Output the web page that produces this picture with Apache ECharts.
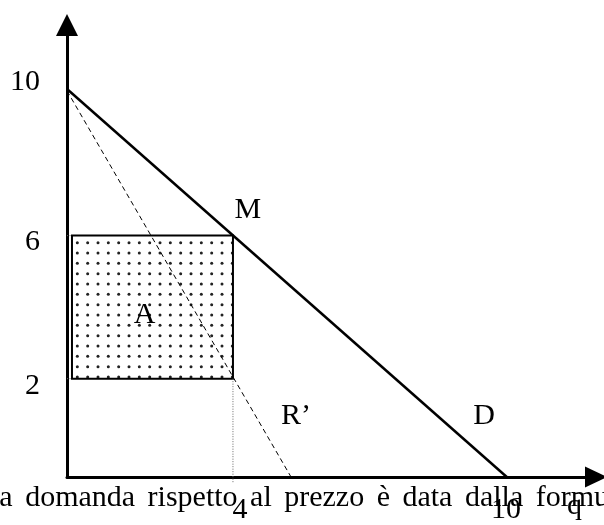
<!DOCTYPE html>
<html><head><meta charset="utf-8">
<script src="https://cdn.jsdelivr.net/npm/echarts@6/dist/echarts.min.js"></script>
<style>html,body{margin:0;padding:0;background:#fff}#c{width:604px;height:525px}</style>
</head><body><div id="c"></div><script>
// ---- data ----
const demandLine  = [[0, 10.1], [10.6, -0.75]];   // D
const revenueLine = [[0, 10.05], [5.4, -0.75]];   // R'
const rectA = [[0.12, 4, 2, 6]];                   // x0, x1, y0, y1 (area A)
const guide6 = [[-0.24, 6], [0.12, 6]];
const guide2 = [[-0.24, 2], [0.12, 2]];
const guide4 = [[4, 2], [4, -0.9]];
const yTicks = [2, 6, 10];
const xTicks = [4, 10];
const xName = 'q';
const labelNames = ['M', 'A', 'R\u2019', 'D'];
const labelX = [4.36, 1.87, 5.52, 10.05];
const labelY = [6.72, 3.78, 0.95, 0.95];
const captionText = 'La domanda rispetto al prezzo è data dalla formula';

const FONT = 'Liberation Serif';

// dotted fill pattern
const pc = document.createElement('canvas');
pc.width = 31; pc.height = 31;
const g = pc.getContext('2d');
g.fillStyle = '#fff'; g.fillRect(0, 0, 31, 31);
g.fillStyle = '#222';
for (let i = 0; i < 3; i++) for (let j = 0; j < 3; j++) {
  g.beginPath(); g.arc(5 + i * 31 / 3, 5 + j * 31 / 3, 1.5, 0, Math.PI * 2); g.fill();
}

const chart = echarts.init(document.getElementById('c'), null, {renderer: 'canvas'});
const guideStyle = {color: '#666', width: 1, type: [1, 1.5]};
chart.setOption({
  animation: false,
  title: {
    // justified text in the original: slightly wider word gaps
    text: captionText.split(' ').join(' \u2006'), left: -19, top: 483, padding: 0,
    textStyle: {fontFamily: FONT, fontSize: 30, fontWeight: 'normal', color: '#000'}
  },
  grid: {left: 67, right: 8, top: 25, bottom: 45},
  xAxis: {
    type: 'value', min: 0, max: 12.75,
    name: xName, nameLocation: 'end', nameGap: -29,
    nameTextStyle: {fontFamily: FONT, fontSize: 30, color: '#000', verticalAlign: 'top', padding: [14, 0, 0, 0]},
    axisLine: {onZero: false, symbol: ['none', 'triangle'], symbolSize: [21, 22], lineStyle: {color: '#000', width: 3}},
    axisTick: {show: false},
    splitLine: {show: false},
    axisLabel: {
      customValues: xTicks, margin: 18, color: '#000', fontFamily: FONT, fontSize: 30,
      formatter: v => v === 4 ? '{a|' + v + '}' : '{b|' + v + '}',
      rich: {
        a: {fontFamily: FONT, fontSize: 30, color: '#000', padding: [0, 0, 0, 14]},
        b: {fontFamily: FONT, fontSize: 30, color: '#000', padding: [0, 0, 0, 48]}
      }
    }
  },
  yAxis: {
    type: 'value', min: -0.75, max: 11.89,
    axisLine: {onZero: false, symbol: ['none', 'triangle'], symbolSize: [22, 22], lineStyle: {color: '#000', width: 3}},
    axisTick: {show: false},
    splitLine: {show: false},
    axisLabel: {
      customValues: yTicks, margin: 27, color: '#000', fontFamily: FONT, fontSize: 30,
      formatter: v => v === 10 ? '{up|' + v + '}' : '{n|' + v + '}',
      rich: {
        up: {fontFamily: FONT, fontSize: 30, color: '#000', padding: [0, 0, 20, 0]},
        n: {fontFamily: FONT, fontSize: 30, color: '#000', padding: [14, 0, 0, 0]}
      }
    }
  },
  series: [
    {
      type: 'custom', z: 1, data: rectA, encode: {x: [0, 1], y: [2, 3]}, clip: false,
      renderItem(params, api) {
        const p0 = api.coord([api.value(0), api.value(3)]);
        const p1 = api.coord([api.value(1), api.value(2)]);
        return {type: 'rect',
          shape: {x: p0[0], y: p0[1], width: p1[0] - p0[0], height: p1[1] - p0[1]},
          style: {fill: {image: pc, repeat: 'repeat'}, stroke: '#000', lineWidth: 2}};
      }
    },
    {type: 'line', z: 3, data: demandLine, symbol: 'none', clip: false, lineStyle: {color: '#000', width: 2.5}},
    {type: 'line', z: 3, data: revenueLine, symbol: 'none', clip: false, lineStyle: {color: '#000', width: 1, type: [5, 3.5]}},
    {type: 'line', z: 2, data: guide6, symbol: 'none', clip: false, lineStyle: guideStyle},
    {type: 'line', z: 2, data: guide2, symbol: 'none', clip: false, lineStyle: guideStyle},
    {type: 'line', z: 2, data: guide4, symbol: 'none', clip: false, lineStyle: guideStyle},
    {
      type: 'scatter', z: 4, symbolSize: 0, silent: true,
      itemStyle: {color: '#000'},
      data: labelNames.map((n, i) => ({name: n, value: [labelX[i], labelY[i]]})),
      label: {show: true, position: [0, 0], align: 'center', verticalAlign: 'middle',
        formatter: p => p.name, color: '#000', opacity: 1, textBorderWidth: 0,
        fontFamily: FONT, fontSize: 30}
    }
  ]
});
</script></body></html>
